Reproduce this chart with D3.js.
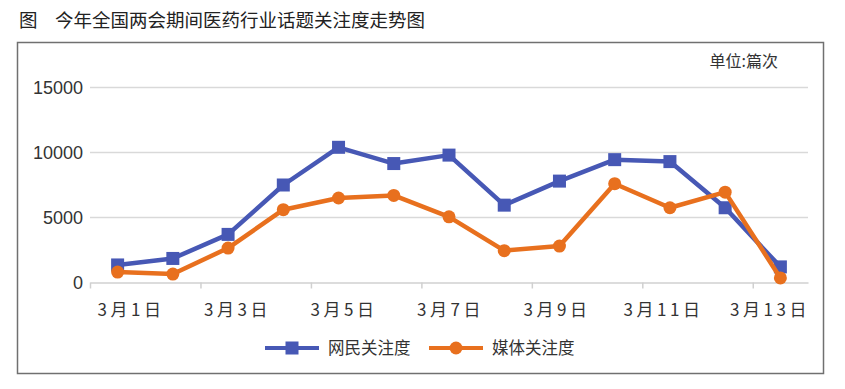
<!DOCTYPE html>
<meta charset="utf-8">
<style>
body { margin: 0; background: #fff; }
svg { font-family: "Noto Sans CJK SC", "Liberation Sans", sans-serif; }
.grid line { stroke: #d9d9d9; stroke-width: 1.5px; }
.axis--x path, .axis--x line { stroke: #d0d0d0; stroke-width: 1.5px; }
.ytick { font-family: "Liberation Sans", Arial, sans-serif; font-size: 18px; fill: #333; }
.xlab { font-size: 17px; fill: #333; letter-spacing: 3.5px; }
.line { fill: none; stroke-width: 4.5px; stroke-linejoin: round; }
</style>
<svg width="845" height="389"></svg>
<script src="https://cdn.jsdelivr.net/npm/d3@7"></script>
<script>

var days = ["3月1日","3月2日","3月3日","3月4日","3月5日","3月6日","3月7日","3月8日","3月9日","3月10日","3月11日","3月12日","3月13日"];
var tickLabels = ["3月1日","3月3日","3月5日","3月7日","3月9日","3月11日","3月13日"];
var yTicks = [0, 5000, 10000, 15000];
var netizen = [1350, 1850, 3700, 7500, 10400, 9150, 9800, 5950, 7800, 9450, 9300, 5750, 1200];
var media = [800, 650, 2650, 5600, 6500, 6700, 5050, 2450, 2800, 7600, 5750, 6950, 350];

var series = [
  {name: "网民关注度", values: netizen, color: "#4758b5", marker: "square"},
  {name: "媒体关注度", values: media, color: "#e8701e", marker: "circle"}
];

var svg = d3.select("svg");

// title
svg.append("text").attr("x", 19).attr("y", 27)
    .style("font-size", "18.5px").style("fill", "#222")
    .text("图");
svg.append("text").attr("x", 55).attr("y", 27)
    .style("font-size", "18.5px").style("fill", "#222")
    .text("今年全国两会期间医药行业话题关注度走势图");

// frame
svg.append("rect")
    .attr("x", 17.5).attr("y", 42.5).attr("width", 806).attr("height", 331)
    .attr("fill", "none").attr("stroke", "#707070").attr("stroke-width", 1.5);

var plotLeft = 90, plotRight = 808, plotTop = 87.5, plotBottom = 282.5;

var x = d3.scaleBand().domain(d3.range(days.length)).range([plotLeft, plotRight]);
var xEdge = d3.scaleLinear().domain([0, days.length]).range([plotLeft, plotRight]);
var xLab = d3.scaleLinear().domain([0, tickLabels.length - 1]).range([131, 770]);
var y = d3.scaleLinear().domain([0, 15000]).range([plotBottom, plotTop]);

// gridlines
svg.append("g").attr("class", "grid")
  .selectAll("line").data(yTicks.filter(function(d) { return d > 0; }))
  .enter().append("line")
    .attr("x1", plotLeft).attr("x2", plotRight)
    .attr("y1", function(d) { return y(d); }).attr("y2", function(d) { return y(d); });

// y labels
svg.append("g").selectAll("text").data(yTicks)
  .enter().append("text").attr("class", "ytick")
    .attr("x", 83).attr("y", function(d) { return y(d); })
    .attr("dy", "0.35em").attr("text-anchor", "end")
    .text(function(d) { return d; });

// x axis
svg.append("g").attr("class", "axis axis--x")
    .attr("transform", "translate(0," + plotBottom + ")")
    .call(d3.axisBottom(xEdge).tickValues(d3.range(0, days.length, 2)).tickSize(6).tickSizeOuter(0).tickFormat(""));

svg.append("g").selectAll("text").data(tickLabels)
  .enter().append("text").attr("class", "xlab")
    .attr("x", function(d, i) { return xLab(i); }).attr("y", 316)
    .attr("text-anchor", "middle")
    .text(function(d) { return d; });

// unit
svg.append("text").attr("x", 778).attr("y", 67).attr("text-anchor", "end")
    .style("font-size", "16px").style("fill", "#333").text("单位:篇次");

var line = d3.line()
    .x(function(d, i) { return x(i) + x.bandwidth() / 2; })
    .y(function(d) { return y(d); });

function drawMarker(g, type, color, cx, cy) {
  if (type === "square") {
    g.append("rect").attr("x", cx - 6.5).attr("y", cy - 6.5).attr("width", 13).attr("height", 13).attr("fill", color);
  } else {
    g.append("circle").attr("cx", cx).attr("cy", cy).attr("r", 6.5).attr("fill", color);
  }
}

series.forEach(function(s) {
  var g = svg.append("g");
  g.append("path").attr("class", "line").attr("d", line(s.values)).style("stroke", s.color);
  s.values.forEach(function(v, i) {
    drawMarker(g, s.marker, s.color, x(i) + x.bandwidth() / 2, y(v));
  });
});

// legend
var legendX = [265, 429];
series.forEach(function(s, i) {
  var g = svg.append("g").attr("transform", "translate(" + legendX[i] + ",348)");
  g.append("line").attr("x1", 0).attr("x2", 54).attr("y1", 0).attr("y2", 0)
      .attr("stroke", s.color).attr("stroke-width", 4);
  drawMarker(g, s.marker, s.color, 27, 0);
  g.append("text").attr("x", 63).attr("y", 0).attr("dy", "0.35em")
      .style("font-size", "16.5px").style("fill", "#333").text(s.name);
});

</script>
